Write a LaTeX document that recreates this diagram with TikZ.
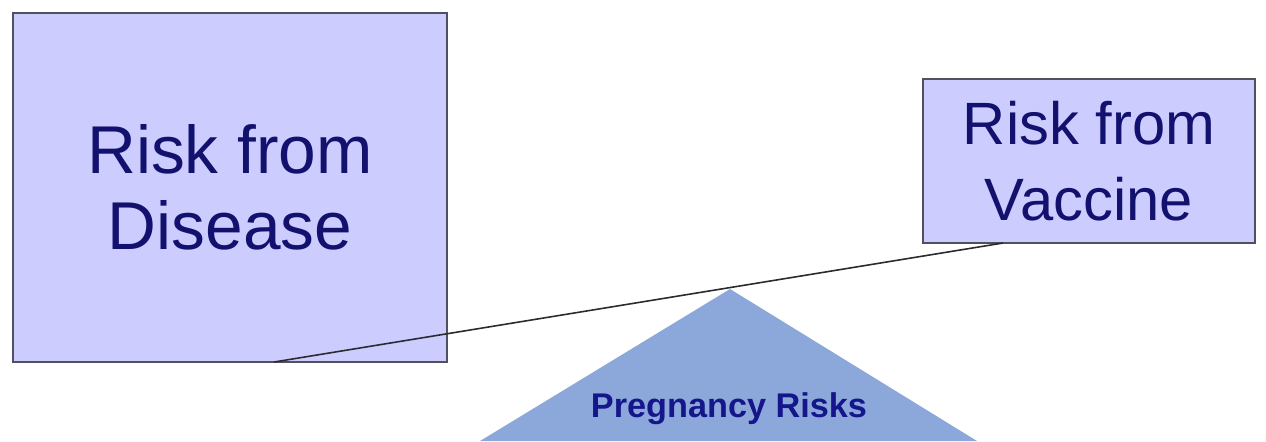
\documentclass[tikz,border=0pt]{standalone}
\usepackage{fontspec}
\setmainfont{Liberation Sans}
\definecolor{rkfill}{HTML}{CCCCFF}
\definecolor{rkline}{HTML}{50505E}
\definecolor{rktext}{HTML}{12126E}
\definecolor{pgfill}{HTML}{8CA8DA}
\definecolor{pgtext}{HTML}{16168C}
\definecolor{beam}{HTML}{2A2A30}
\begin{document}
\begin{tikzpicture}[
    x=0.02cm,y=-0.02cm,
    riskbox/.style={draw=rkline, line width=0.8pt, fill=rkfill, text=rktext, align=center, inner sep=0pt, font=\fontsize{38.5}{43}\selectfont},
    beamline/.style={draw=beam, line width=0.9pt},
    pivot/.style={fill=pgfill, draw=none},
    pivotlabel/.style={font=\fontsize{19.5}{21}\selectfont\bfseries, text=pgtext}
  ]
    \useasboundingbox (0,0) rectangle (1266,441);

    % fulcrum
    \coordinate (apex) at (730,289);
    \fill[pivot] (apex) -- (977,441) -- (480,441) -- cycle;
    \node[pivotlabel] (pregnancy) at (729,409) {Pregnancy Risks};

    % the two weights
    \node[riskbox, minimum width=8.68cm, minimum height=6.98cm] (disease) at (230,187.5) {Risk from\\Disease};
    \node[riskbox, font=\fontsize{34}{43}\selectfont, minimum width=6.64cm, minimum height=3.28cm] (vaccine) at (1089,161) {Risk from\\Vaccine};

    % the beam
    \coordinate (beamleft) at (274,362);
    \coordinate (beamright) at (1003,243);
    \draw[beamline] (beamleft) -- (beamright);
  \end{tikzpicture}
\end{document}
